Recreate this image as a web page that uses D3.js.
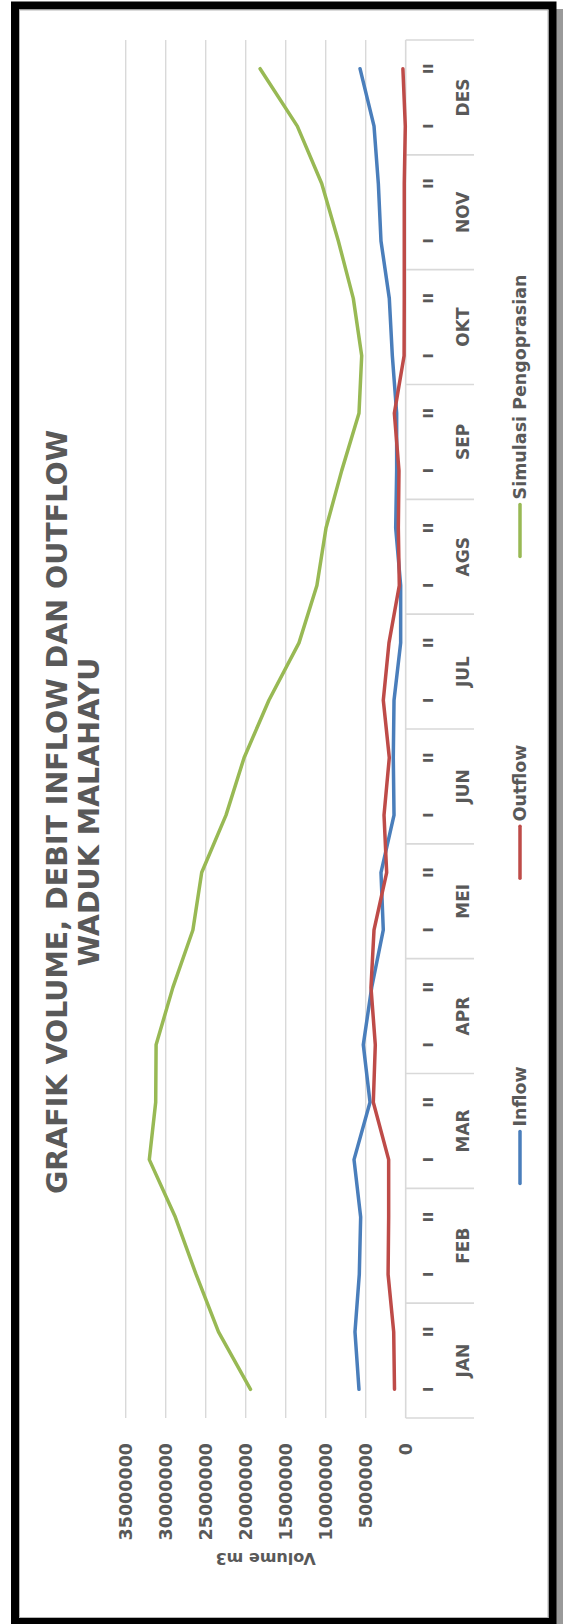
<!DOCTYPE html>
<html>
<head>
<meta charset="utf-8">
<script src="https://cdn.jsdelivr.net/npm/d3@7/dist/d3.min.js"></script>
<style>
  body { margin: 0; background: #fff; }
  svg text { font-family: "DejaVu Sans", sans-serif; font-weight: bold; fill: #595959; }
</style>
</head>
<body>
<svg id="chart" width="565" height="1624"></svg>
<script>
const MONTHS   = ["JAN", "FEB", "MAR", "APR", "MEI", "JUN", "JUL", "AGS", "SEP", "OKT", "NOV", "DES"];
const PERIODS  = ["I", "II"];
const INFLOW   = [5840000, 6340000, 5800000, 5630000, 6460000, 4460000, 5300000, 4250000,
                  2800000, 3090000, 1460000, 1550000, 1460000, 630000, 630000, 1250000,
                  1130000, 1130000, 1670000, 2050000, 3090000, 3420000, 3960000, 5710000];
const OUTFLOW  = [1400000, 1500000, 2200000, 2130000, 2130000, 4050000, 3800000, 4340000,
                  3960000, 2380000, 2710000, 2050000, 2800000, 2090000, 800000, 920000,
                  840000, 1420000, 200000, 180000, 180000, 180000, 50000, 350000];
const SIMULASI = [19400000, 23400000, 26200000, 28800000, 32050000, 31250000, 31200000, 29100000,
                  26600000, 25500000, 22460000, 20200000, 17100000, 13340000, 11100000, 9960000,
                  8000000, 5840000, 5500000, 6550000, 8420000, 10500000, 13550000, 18200000];
const Y_TICKS  = [0, 5000000, 10000000, 15000000, 20000000, 25000000, 30000000, 35000000];
const SERIES_NAMES  = ["Inflow", "Outflow", "Simulasi Pengoprasian"];
const SERIES_COLORS = ["#4a7ebb", "#be4b48", "#98b954"];
const TITLE_LINES = ["GRAFIK VOLUME, DEBIT INFLOW DAN OUTFLOW", "WADUK MALAHAYU"];
const Y_TITLE = "Volume m3";

const IMG_W = 565, IMG_H = 1624;
// the chart is drawn lying on its side: u runs along the screen from bottom to top
const PLOT = { left: 206, right: 1584, top: 125.7, bottom: 405.7 };
const TEXT = "#595959";
const GRID = "#d9d9d9";

const svg = d3.select("#chart");

// frame with shadow
svg.append("rect").attr("x", 556).attr("y", 9).attr("width", 7).attr("height", IMG_H - 9).attr("fill", "#9a9a9a");
svg.append("rect").attr("x", 15).attr("y", 5.5).attr("width", 537.5).attr("height", 1616.5)
  .attr("fill", "#fff").attr("stroke", "#000").attr("stroke-width", 8);
svg.append("rect").attr("x", 19.5).attr("y", 10).attr("width", 528.5).attr("height", 1607.5)
  .attr("fill", "none").attr("stroke", "#b5b5b5").attr("stroke-width", 1);

const g = svg.append("g").attr("transform", `translate(0,${IMG_H}) rotate(-90)`);

const keys = [];
MONTHS.forEach(m => PERIODS.forEach(p => keys.push(m + "-" + p)));

const x = d3.scaleBand().domain(keys).range([PLOT.left, PLOT.right]);
const xMonth = d3.scaleBand().domain(MONTHS).range([PLOT.left, PLOT.right]);
const y = d3.scaleLinear().domain([0, 35000000]).range([PLOT.bottom, PLOT.top]);

// gridlines
g.append("g").selectAll("line")
  .data(Y_TICKS.filter(t => t > 0))
  .join("line")
    .attr("x1", PLOT.left).attr("x2", PLOT.right)
    .attr("y1", d => y(d)).attr("y2", d => y(d))
    .attr("stroke", GRID).attr("stroke-width", 1.4);

// value axis labels
const yAxis = g.append("g")
  .attr("transform", `translate(${PLOT.left},0)`)
  .call(d3.axisLeft(y).tickValues(Y_TICKS).tickSize(0).tickPadding(25).tickFormat(d => String(d)))
  .call(ax => ax.select(".domain").remove());
yAxis.attr("font-family", null).attr("font-size", 17.5);
yAxis.selectAll("text").attr("fill", TEXT);

// category axis line + month separators
g.append("line")
  .attr("x1", PLOT.left).attr("x2", PLOT.right)
  .attr("y1", PLOT.bottom).attr("y2", PLOT.bottom)
  .attr("stroke", GRID).attr("stroke-width", 1.6);

const sepPos = MONTHS.map(m => xMonth(m)).concat([PLOT.right]);
g.append("g").selectAll("line")
  .data(sepPos)
  .join("line")
    .attr("x1", d => d).attr("x2", d => d)
    .attr("y1", PLOT.bottom).attr("y2", 474)
    .attr("stroke", GRID).attr("stroke-width", 1.6);

const pAxis = g.append("g")
  .attr("transform", `translate(0,${PLOT.bottom})`)
  .call(d3.axisBottom(x).tickSize(0).tickFormat(d => d.split("-")[1]))
  .call(ax => ax.select(".domain").remove());
pAxis.attr("font-family", null).attr("font-size", 14);
pAxis.selectAll("text").attr("fill", TEXT).attr("y", 27.5).attr("dy", null);

const mAxis = g.append("g")
  .attr("transform", `translate(0,${PLOT.bottom})`)
  .call(d3.axisBottom(xMonth).tickSize(0))
  .call(ax => ax.select(".domain").remove());
mAxis.attr("font-family", null).attr("font-size", 17);
mAxis.selectAll("text").attr("fill", TEXT).attr("y", 63).attr("dy", null);

// series
const line = d3.line()
  .x((d, i) => x(keys[i]) + x.bandwidth() / 2)
  .y(d => y(d));

[INFLOW, OUTFLOW, SIMULASI].forEach((vals, i) => {
  g.append("path")
    .datum(vals)
    .attr("d", line)
    .attr("fill", "none")
    .attr("stroke", SERIES_COLORS[i])
    .attr("stroke-width", 3.5)
    .attr("stroke-linecap", "round")
    .attr("stroke-linejoin", "round");
});

// title
const titleCenter = 812;
TITLE_LINES.forEach((t, i) => {
  g.append("text")
    .attr("x", titleCenter)
    .attr("y", 66.5 + i * 32)
    .attr("text-anchor", "middle")
    .attr("font-size", 28.5)
    .text(t);
});

// value axis title
g.append("text")
  .attr("transform", `translate(71,${(PLOT.top + PLOT.bottom) / 2}) rotate(-90)`)
  .attr("text-anchor", "middle")
  .attr("font-size", 16)
  .text(Y_TITLE);

// legend
const LEG_LINE = 52, LEG_GAP = 5, LEG_SPACING = 188;
const legend = g.append("g");
const items = SERIES_NAMES.map((name, i) => {
  const it = legend.append("g");
  it.append("line")
    .attr("x1", 0).attr("x2", LEG_LINE)
    .attr("y1", 520).attr("y2", 520)
    .attr("stroke", SERIES_COLORS[i]).attr("stroke-width", 3.5)
    .attr("stroke-linecap", "round");
  const tx = it.append("text")
    .attr("x", LEG_LINE + LEG_GAP).attr("y", 525.5)
    .attr("font-size", 17.5)
    .text(name);
  return { it, w: LEG_LINE + LEG_GAP + tx.node().getComputedTextLength() };
});
const total = d3.sum(items, d => d.w) + LEG_SPACING * (items.length - 1);
let pos = (PLOT.left + PLOT.right) / 2 - total / 2;
items.forEach(d => {
  d.it.attr("transform", `translate(${pos},0)`);
  pos += d.w + LEG_SPACING;
});
</script>
</body>
</html>
